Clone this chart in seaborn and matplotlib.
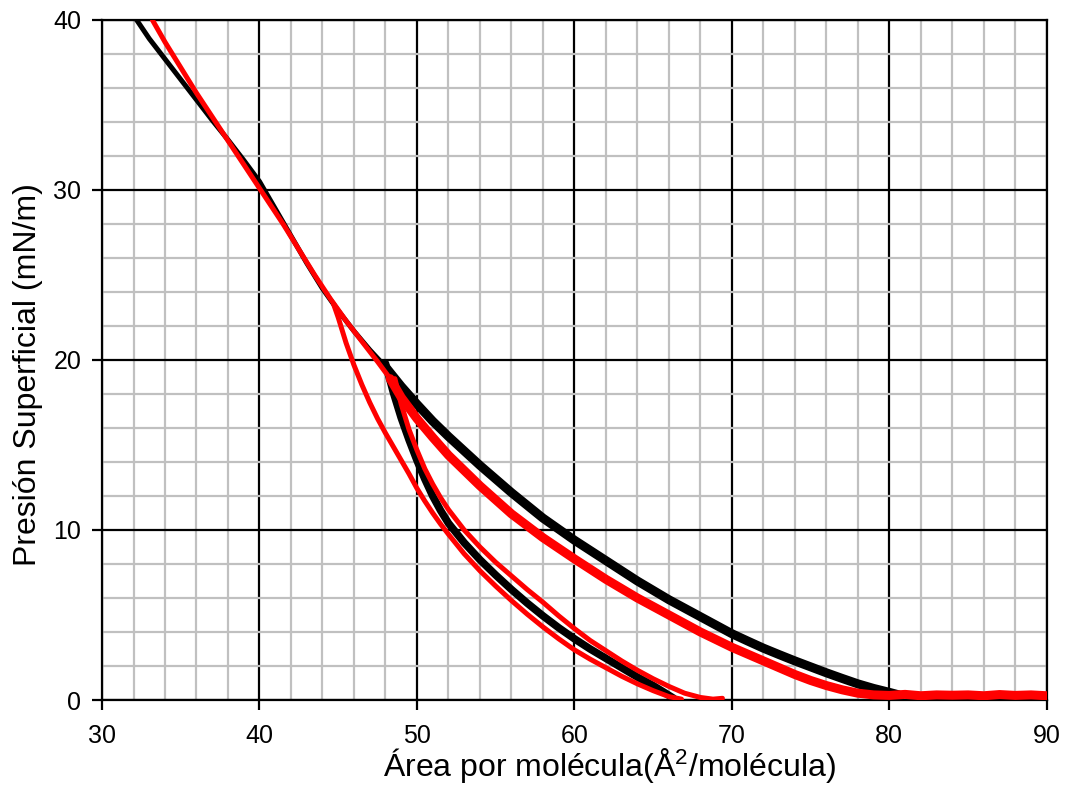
import numpy as np
import pandas as pd
import matplotlib
matplotlib.use("Agg")
import matplotlib.pyplot as plt
import seaborn as sns
from matplotlib.ticker import MultipleLocator

# ---------------- data ----------------
# black: repeated compressions (upper band)
black_upper_x = [80.6, 80.0, 79.0, 78.0, 77.0, 76.0, 75.0, 74.0, 73.0, 72.0, 71.0, 70.0,
                 68.0, 66.0, 64.0, 62.0, 60.0, 58.0, 56.0, 54.0, 52.0, 51.0, 50.0, 49.0, 48.0]
black_upper_y = [0.3, 0.45, 0.68, 0.95, 1.27, 1.6, 1.95, 2.3, 2.67, 3.05, 3.47, 3.9,
                 4.9, 5.9, 7.0, 8.2, 9.4, 10.7, 12.2, 13.8, 15.5, 16.4, 17.4, 18.45, 19.6]
# black: final compression up to 40 mN/m
black_top_x = [48.0, 47.0, 46.0, 45.0, 44.0, 43.0, 42.0, 41.0, 40.0, 39.0, 38.0, 37.0,
               36.0, 35.0, 34.0, 33.0, 32.2]
black_top_y = [19.6, 20.6, 21.7, 22.9, 24.2, 25.7, 27.3, 28.9, 30.5, 31.75, 32.95, 34.1,
               35.3, 36.5, 37.7, 38.9, 40.0]
# black: expansions (lower band)
black_lower_x = [48.0, 48.5, 49.0, 49.5, 50.0, 50.5, 51.0, 51.5, 52.0, 53.0, 54.0, 55.0,
                 56.0, 57.0, 58.0, 59.0, 60.0, 61.0, 62.0, 63.0, 64.0, 65.0, 65.7, 66.3]
black_lower_y = [19.8, 18.1, 16.6, 15.3, 14.1, 13.0, 12.0, 11.15, 10.4, 9.25, 8.25, 7.35,
                 6.5, 5.7, 4.95, 4.25, 3.6, 3.0, 2.45, 1.9, 1.35, 0.85, 0.45, 0.1]

# red: compressions (upper band, with flat gas region)
red_upper_x = [90.0, 89.0, 88.0, 87.0, 86.0, 85.0, 84.0, 83.0, 82.0, 81.0, 80.0, 79.0,
               78.0, 77.0, 76.0, 75.0, 74.0, 73.0, 72.0, 71.0, 70.0, 68.0, 66.0, 64.0,
               62.0, 60.0, 58.0, 56.0, 54.0, 52.0, 51.0, 50.0, 49.0, 48.3]
red_upper_y = [0.25, 0.3, 0.27, 0.32, 0.25, 0.3, 0.28, 0.3, 0.25, 0.33, 0.27, 0.3,
               0.4, 0.6, 0.85, 1.15, 1.5, 1.9, 2.3, 2.7, 3.1, 4.0, 5.0, 6.0,
               7.1, 8.3, 9.55, 10.95, 12.6, 14.4, 15.45, 16.55, 17.8, 18.9]
# red: final compression up to 40 mN/m
red_top_x = [48.3, 47.5, 46.5, 45.5, 44.5, 43.5, 42.5, 41.5, 40.5, 40.0, 39.0, 38.0,
             37.0, 36.0, 35.0, 34.0, 33.2]
red_top_y = [18.9, 19.9, 21.1, 22.3, 23.6, 25.0, 26.5, 28.0, 29.4, 30.1, 31.5, 32.9,
             34.3, 35.7, 37.2, 38.7, 40.0]
# red: expansion from ~19 mN/m (right lower branch)
red_exp1_x = [48.6, 49.0, 49.5, 50.0, 50.5, 51.0, 51.5, 52.0, 53.0, 54.0, 55.0, 56.0,
              57.0, 58.0, 59.0, 60.0, 61.0, 62.0, 63.0, 64.0, 65.0, 66.0, 67.0, 68.0,
              68.8, 69.4]
red_exp1_y = [18.9, 17.4, 15.9, 14.7, 13.6, 12.7, 11.9, 11.2, 10.0, 9.0, 8.1, 7.3,
              6.5, 5.75, 4.95, 4.2, 3.5, 2.9, 2.3, 1.75, 1.25, 0.8, 0.4, 0.15,
              0.05, 0.1]
# red: expansion from ~23 mN/m (left lower branch)
red_exp2_x = [44.7, 45.0, 45.5, 46.0, 46.5, 47.0, 47.5, 48.0, 48.5, 49.0, 49.5, 50.0,
              50.5, 51.0, 51.5, 52.0, 53.0, 54.0, 55.0, 56.0, 57.0, 58.0, 59.0, 60.0,
              61.0, 62.0, 63.0, 64.0, 65.0, 66.0, 66.8]
red_exp2_y = [23.3, 22.5, 21.0, 19.7, 18.55, 17.5, 16.55, 15.7, 14.9, 14.1, 13.3, 12.45,
              11.7, 11.0, 10.35, 9.75, 8.6, 7.6, 6.7, 5.85, 5.05, 4.3, 3.6, 2.95,
              2.4, 1.9, 1.4, 0.95, 0.55, 0.2, 0.05]

x_ticks = [30, 40, 50, 60, 70, 80, 90]
y_ticks = [0, 10, 20, 30, 40]

# ---------------- style ----------------
sns.set_style("white")
plt.rcParams['font.family'] = ['Liberation Sans', 'DejaVu Sans']
plt.rcParams['mathtext.fontset'] = 'custom'
plt.rcParams['mathtext.rm'] = 'Liberation Sans'

fig = plt.figure(figsize=(10.66, 7.89), dpi=100)
ax = fig.add_axes([0.0957, 0.1128, 0.8863, 0.8619])

def draw(xs, ys, color, lw):
    df = pd.DataFrame({"x": xs, "y": ys})
    sns.lineplot(data=df, x="x", y="y", sort=False, estimator=None,
                 color=color, linewidth=lw, ax=ax, zorder=3)

draw(black_upper_x, black_upper_y, "black", 6.5)
draw(black_top_x, black_top_y, "black", 3.6)
draw(black_lower_x, black_lower_y, "black", 5.5)
draw(red_upper_x, red_upper_y, "#ff0000", 6.5)
draw(red_top_x, red_top_y, "#ff0000", 3.6)
draw(red_exp1_x, red_exp1_y, "#ff0000", 3.6)
draw(red_exp2_x, red_exp2_y, "#ff0000", 3.6)

ax.set_xlim(30, 90)
ax.set_ylim(0, 40)
ax.set_xticks(x_ticks)
ax.set_yticks(y_ticks)
ax.xaxis.set_minor_locator(MultipleLocator(2))
ax.yaxis.set_minor_locator(MultipleLocator(2))
ax.grid(which="minor", color="#c0c0c0", linewidth=1.6, zorder=0)
ax.grid(which="major", color="black", linewidth=1.6, zorder=1)
ax.set_axisbelow(True)
ax.tick_params(which="major", direction="out", length=7, width=1.6,
               color="black", labelcolor="black", labelsize=18,
               bottom=True, left=True)
ax.tick_params(axis="x", which="major", pad=10)
ax.tick_params(axis="y", which="major", pad=8)
ax.tick_params(which="minor", length=0)
for s in ax.spines.values():
    s.set_color("black")
    s.set_linewidth(1.6)

ax.set_xlabel("Área por molécula(Å$\\mathregular{^2}$/molécula)", fontsize=23,
              color="black")
ax.set_ylabel("Presión Superficial (mN/m)", fontsize=23, color="black")
ax.xaxis.set_label_coords(0.5376, -0.068)
ax.yaxis.set_label_coords(-0.062, 0.478)

fig.savefig("out.png", dpi=100)
